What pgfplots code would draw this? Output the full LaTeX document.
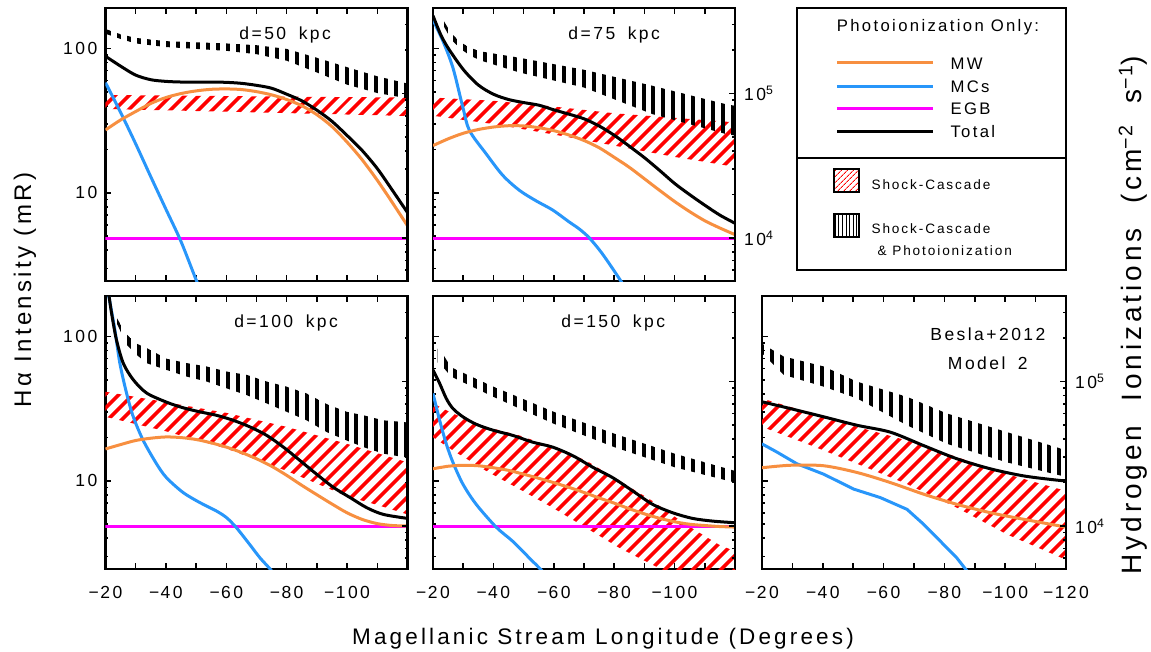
\documentclass[border=0pt]{standalone}
\usepackage{fontspec}
\setmainfont{Liberation Sans}[LetterSpace=14]
\usepackage{pgfplots}
\pgfplotsset{compat=1.18}
\usetikzlibrary{patterns.meta}

\definecolor{mworange}{RGB}{247,143,64}
\definecolor{mcblue}{RGB}{40,150,250}
\definecolor{egbmag}{RGB}{255,0,255}

\newcommand{\tickfont}{\fontsize{17.5}{20}\selectfont}
\newcommand{\ttlfont}{\fontsize{17.5}{20}\selectfont}
\newcommand{\legfont}{\fontsize{16.7}{19}\selectfont}
\newcommand{\smlfont}{\fontsize{13.6}{16}\selectfont}
\newcommand{\mn}{−\hspace{0.08em}}

\pgfplotsset{
  msPanel/.style={
    scale only axis, width=302pt, height=273pt, anchor=north west,
    xmin=-120, xmax=-20, x dir=reverse,
    ymin=2.45, ymax=190,
    axis line style={line width=2.1pt},
    tick style={black, line width=1.5pt},
    tick align=inside,
    major tick length=6pt, minor tick length=3pt,
    xtick={-20,-30,-40,-50,-60,-70,-80,-90,-100,-110,-120},
    xticklabels={},
    xtick pos=both, xticklabel pos=lower,
    ytick={10,100}, minor ytick={3,4,5,6,7,8,9,20,30,40,50,60,70,80,90},
    ytick pos=left, yticklabels={},
    xticklabel style={font=\tickfont, inner sep=0pt, yshift=-17pt},
    yticklabel style={font=\tickfont, inner sep=0pt, xshift=-8pt},
  },
  msRight/.style={
    scale only axis, width=302pt, height=273pt, anchor=north west,
    xmin=-120, xmax=-20, ymin=5041, ymax=390946,
    axis x line=none, axis y line*=right, tick align=inside,
    y axis line style={line width=2.1pt},
    tick style={black, line width=1.5pt},
    major tick length=6pt, minor tick length=3pt,
    ytick={10000,100000},
    minor ytick={6000,7000,8000,9000,20000,30000,40000,50000,60000,70000,80000,90000,200000,300000},
    yticklabels={},
    yticklabel style={font=\tickfont, inner sep=0pt, xshift=9pt},
  },
  msShock/.style={draw=none, pattern={Lines[angle=45,distance=10.5pt,line width=4pt]}, pattern color=red},
  msBoth/.style={draw=none, pattern={Lines[angle=90,distance=9.9pt,line width=4pt]}, pattern color=black},
  msEGB/.style={egbmag, line width=3pt},
  msMC/.style={mcblue, line width=3pt, smooth, tension=0.5},
  msMW/.style={mworange, line width=3pt, smooth, tension=0.5},
  msTot/.style={black, line width=3pt, smooth, tension=0.5},
}

\begin{document}
\begin{tikzpicture}
\useasboundingbox (0pt,0pt) rectangle (1151pt,-651pt);

% ---------------- d = 50 kpc ----------------
\begin{axis}[msPanel, ymode=log, at={(105.5pt,-8pt)}, yticklabels={10,100}]
  \addplot[msShock] coordinates {(-20,47.5) (-45,47) (-70,46.5) (-95,46) (-120,45.6) (-120,34) (-95,35) (-70,36) (-45,37) (-20,38)} -- cycle;
  \addplot[msBoth] coordinates {(-20,136) (-25,125) (-30,118) (-40,112) (-50,110) (-60,108) (-70,105) (-80,99) (-90,86) (-100,74) (-110,64) (-120,57)
    (-120,45) (-110,49) (-100,56) (-90,68) (-80,82) (-70,91) (-60,96) (-50,99) (-40,102) (-30,108) (-25,116) (-20,126)} -- cycle;
  \addplot[msEGB] coordinates {(-20,4.86) (-120,4.86)};
  \addplot[msMC] coordinates {(-20,57.8) (-25,36) (-30,21.8) (-35,12.9) (-40,7.7) (-45,4.6) (-50,2.5) (-55,1.4)};
  \addplot[msMW] coordinates {(-20,27.2) (-25,31.9) (-30,36.5) (-35,41.5) (-40,45.6) (-45,48.6) (-50,50.7) (-55,52.0) (-60,52.3) (-65,51.8) (-70,50.1) (-75,47.6) (-80,44.2) (-85,40.0) (-90,34.7) (-95,28.7) (-100,22.4) (-105,16.9) (-110,12.2) (-115,8.54) (-120,5.91)};
  \addplot[msTot] coordinates {(-20,88.1) (-25,75.2) (-30,65.2) (-35,60.6) (-40,59.0) (-45,58.4) (-50,58.4) (-55,58.4) (-60,58.1) (-65,57.2) (-70,55.4) (-75,52.9) (-80,48.1) (-85,43.3) (-90,37.3) (-95,31.2) (-100,24.9) (-105,19.6) (-110,14.7) (-115,10.4) (-120,7.29)};
  \node[font=\ttlfont, anchor=base] at (rel axis cs:0.595,0.885) {d=50\hspace{0.3em} kpc};
\end{axis}
\begin{axis}[msRight, ymode=log, at={(105.5pt,-8pt)}]
  \addplot[draw=none] coordinates {(-20,10000)};
\end{axis}

% ---------------- d = 75 kpc ----------------
\begin{axis}[msPanel, ymode=log, at={(433pt,-8pt)}]
  \addplot[msShock] coordinates {(-20,45.6) (-40,43.3) (-60,39.5) (-80,35.5) (-100,33) (-120,30.7) (-120,15.1) (-100,17.7) (-80,21.2) (-60,25.3) (-40,29.9) (-20,34.1)} -- cycle;
  \addplot[msBoth] coordinates {(-22,185) (-22.7,166) (-26,127) (-29.4,109) (-32.7,100) (-36,95) (-48.6,86) (-70,71) (-92.7,55) (-117,41) (-120,40)
    (-120,24.9) (-117,25.5) (-92.7,35) (-70,53.5) (-48.6,68) (-36,82) (-32.7,88) (-29.4,98) (-26,115) (-22.7,153) (-22,160)} -- cycle;
  \addplot[msEGB] coordinates {(-20,4.86) (-120,4.86)};
  \addplot[msMC] coordinates {(-20,157) (-23.3,112) (-26.6,73.3) (-29.9,38.9) (-32.1,26.9) (-37.6,18.6) (-43.1,13.2) (-48.6,10.4) (-54.1,8.8) (-59.6,7.6) (-65,6.3) (-68.5,5.6) (-71.8,4.86) (-76.2,3.75) (-82.2,2.45) (-86,1.8)};
  \addplot[msMW] coordinates {(-20,21.2) (-25,23.6) (-30,25.8) (-35,27.4) (-40,28.5) (-45,29.1) (-50,29.0) (-55,28.2) (-60,26.9) (-65,25.1) (-70,23.0) (-75,20.5) (-80,17.6) (-85,15.0) (-90,12.5) (-95,10.4) (-100,8.7) (-105,7.4) (-110,6.4) (-115,5.7) (-120,5.13)};
  \addplot[msTot] coordinates {(-20,168) (-22.5,125) (-25,100.5) (-30,71.4) (-35,55.7) (-40,48.1) (-45,44.2) (-50,42.1) (-55,40.4) (-60,37.5) (-65,35) (-70,32.5) (-75,29) (-80,25) (-85,21) (-90,17.5) (-95,14.3) (-100,11.6) (-105,9.7) (-110,8.2) (-115,7.0) (-120,6.15)};
  \node[font=\ttlfont, anchor=base] at (rel axis cs:0.600,0.885) {d=75\hspace{0.3em} kpc};
\end{axis}
\begin{axis}[msRight, ymode=log, at={(433pt,-8pt)}, yticklabels={10\textsuperscript{4},10\textsuperscript{5}}]
  \addplot[draw=none] coordinates {(-20,10000)};
\end{axis}

% ---------------- d = 100 kpc ----------------
\begin{axis}[msPanel, ymode=log, at={(105.5pt,-296pt)}, yticklabels={10,100},
  xticklabels={\mn20,,\mn40,,\mn60,,\mn80,,\mn100,,}]
  \addplot[msShock] coordinates {(-20,41.3) (-40,35) (-60,29.5) (-80,23.6) (-100,18) (-120,13.4) (-120,5.85) (-110,6.8) (-100,7.8) (-80,11.7) (-60,16.7) (-40,22) (-20,27.7)} -- cycle;
  \addplot[msBoth] coordinates {(-23,150) (-23.9,132) (-27,103) (-30.3,88.9) (-33.6,83) (-40.2,69.9) (-46.9,65.2) (-53.5,61.8) (-60.1,57.0) (-66.7,54.1) (-73.4,48.6) (-80,44.8) (-86.6,40.2) (-93.3,33.9) (-99.9,30.0) (-105.4,28.4) (-112,26.2) (-118.7,25.5) (-120,25.3)
    (-120,14.5) (-118.7,14.6) (-112,15.4) (-105.4,17.1) (-99.9,19.0) (-93.3,21.7) (-86.6,26.2) (-80,30.0) (-73.4,34.3) (-66.7,39.2) (-60.1,43.6) (-53.5,48.6) (-46.9,52.6) (-40.2,58.5) (-33.6,65.2) (-30.3,74.5) (-27,87.5) (-23.9,121) (-23,130)} -- cycle;
  \addplot[msEGB] coordinates {(-20,4.86) (-120,4.86)};
  \addplot[msMC] coordinates {(-20,260) (-21.4,175) (-23.1,111) (-24.75,65.1) (-27,40.2) (-29.2,27.7) (-32.5,19.0) (-36.9,13.1) (-40.2,10.5) (-45.7,8.29) (-51.2,7.07) (-56.7,6.18) (-60.1,5.55) (-63.4,4.72) (-67.8,3.61) (-71.2,2.92) (-75,2.38) (-78,1.9)};
  \addplot[msMW] coordinates {(-20,16.6) (-25,17.8) (-30,19.0) (-35,19.7) (-40,20.1) (-45,19.9) (-50,19.3) (-55,18.3) (-60,17.1) (-65,15.7) (-70,14.2) (-75,12.6) (-80,10.9) (-85,9.3) (-90,8.0) (-95,6.9) (-100,6.0) (-105,5.4) (-110,5.05) (-115,4.9) (-120,4.86)};
  \addplot[msTot] coordinates {(-20,260) (-21,200) (-22,145) (-23.6,95) (-25.9,65) (-29.2,50) (-33.6,40.5) (-40.2,35) (-45.7,32) (-51.2,30.0) (-56.7,28.4) (-62.3,26.2) (-67.8,23.6) (-73.4,20.6) (-78.9,17.1) (-84.4,13.8) (-89.9,11.1) (-95.5,8.99) (-101,7.65) (-106.5,6.51) (-112,5.85) (-120,5.49)};
  \node[font=\ttlfont, anchor=base] at (rel axis cs:0.598,0.885) {d=100\hspace{0.3em} kpc};
\end{axis}
\begin{axis}[msRight, ymode=log, at={(105.5pt,-296pt)}]
  \addplot[draw=none] coordinates {(-20,10000)};
\end{axis}

% ---------------- d = 150 kpc ----------------
\begin{axis}[msPanel, ymode=log, at={(433pt,-296pt)},
  xticklabels={\mn20,,\mn40,,\mn60,,\mn80,,\mn100,,}]
  \addplot[msShock] coordinates {(-20,34.3) (-26.6,29.2) (-37.6,23.6) (-48.6,20.6) (-59.6,17.1) (-70.7,13.8) (-81.7,10) (-92.7,7.24) (-103.7,4.99) (-114.7,3.61) (-120,3.25)
    (-120,1.5) (-110,1.8) (-100,2.2) (-92.7,2.62) (-81.7,3.43) (-70.7,4.72) (-59.6,6.51) (-48.6,8.75) (-37.6,11.7) (-26.6,16.2) (-20,20.0)} -- cycle;
  \addplot[msBoth] coordinates {(-21.5,82) (-22.8,78) (-26,61) (-40,44.8) (-50,36.7) (-60,30) (-80,21.2) (-100,15.4) (-120,11.7)
    (-120,9.72) (-100,12.4) (-80,17.1) (-60,24.8) (-50,30.7) (-40,38.1) (-26,52.6) (-22.8,63) (-21.5,66)} -- cycle;
  \addplot[msEGB] coordinates {(-20,4.86) (-120,4.86)};
  \addplot[msMC] coordinates {(-20,40.2) (-22.2,26.2) (-24.4,18.0) (-26.6,13.4) (-29.9,9.48) (-34.3,6.87) (-40.9,4.78) (-46.4,3.81) (-51.9,2.92) (-56.1,2.38) (-60,1.9)};
  \addplot[msMW] coordinates {(-20,12.1) (-25,12.6) (-30,12.8) (-35,12.7) (-40,12.3) (-45,11.8) (-50,11.1) (-55,10.4) (-60,9.7) (-65,9.0) (-70,8.3) (-75,7.6) (-80,7.0) (-85,6.4) (-90,5.9) (-95,5.5) (-100,5.2) (-105,5.0) (-110,4.9) (-115,4.82) (-120,4.78)};
  \addplot[msTot] coordinates {(-20,58.5) (-22.2,47.2) (-24.4,37.1) (-26.6,31.6) (-29.9,27.7) (-34.3,24.6) (-39.8,22.4) (-46.4,20.6) (-53,18.5) (-59.6,17.1) (-66.3,14.9) (-72.9,12.4) (-79.5,10.5) (-86.1,8.51) (-92.7,6.87) (-99.3,6.01) (-105.9,5.49) (-112.5,5.26) (-120,5.12)};
  \node[font=\ttlfont, anchor=base] at (rel axis cs:0.597,0.885) {d=150\hspace{0.3em} kpc};
\end{axis}
\begin{axis}[msRight, ymode=log, at={(433pt,-296pt)}]
  \addplot[draw=none] coordinates {(-20,10000)};
\end{axis}

% ---------------- Besla+2012, Model 2 ----------------
\begin{axis}[msPanel, ymode=log, width=304pt, at={(762pt,-296pt)},
  xticklabels={\mn20,,\mn40,,\mn60,,\mn80,,\mn100,,\mn120}]
  \addplot[msShock] coordinates {(-20,37.1) (-34.8,30.0) (-51.3,23.6) (-67.7,19.0) (-84.1,14.6) (-100.6,11.1) (-120,8.51)
    (-120,2.84) (-100.6,4.25) (-84.1,6.51) (-67.7,9.48) (-51.3,13.1) (-34.8,18.0) (-20,23.6)} -- cycle;
  \addplot[msBoth] coordinates {(-20,90) (-20.5,87.5) (-27.1,72.5) (-40.3,61.8) (-51.3,48.5) (-67.7,38.1) (-80.9,29.2) (-100.6,21.7) (-118.7,16.6) (-120,16.3)
    (-120,10.6) (-118.7,10.8) (-100.6,13.4) (-80.9,18.0) (-67.7,24.2) (-51.3,37.1) (-40.3,44.8) (-27.1,54.1) (-20.5,74.5) (-20,76)} -- cycle;
  \addplot[mcblue, line width=3pt] coordinates {(-20,18.0) (-24.9,15.8) (-31.5,13.1) (-40.3,11.1) (-50.2,8.75) (-58.9,7.65) (-67.7,6.34) (-73.2,4.99) (-78.7,3.81) (-84.1,2.92) (-87.4,2.38) (-92,1.9)};
  \addplot[msMW] coordinates {(-20,12.3) (-29.3,12.8) (-40.3,12.7) (-51.3,11.4) (-62.2,9.72) (-73.2,8.07) (-84.1,6.87) (-95.1,6.01) (-106.1,5.41) (-120,4.78)};
  \addplot[msTot] coordinates {(-20,35.2) (-29.3,31.6) (-40.3,27.7) (-51.3,24.2) (-62.2,21.7) (-73.2,17.5) (-84.1,14.2) (-95.1,12.1) (-106.1,10.8) (-117,10.1) (-120,10.0)};
  \node[font=\ttlfont, anchor=base] at (rel axis cs:0.743,0.836) {Besla+2012};
  \node[font=\ttlfont, anchor=base] at (rel axis cs:0.743,0.731) {Model\hspace{0.3em} 2};
\end{axis}
\begin{axis}[msRight, ymode=log, width=304pt, at={(762pt,-296pt)}, yticklabels={10\textsuperscript{4},10\textsuperscript{5}}]
  \addplot[draw=none] coordinates {(-20,10000)};
\end{axis}

% ---------------- legend box ----------------
\draw[line width=2.1pt] (797pt,-8pt) rectangle (1066pt,-270pt);
\draw[line width=2.1pt] (797pt,-158pt) -- (1066pt,-158pt);
\node[font=\legfont, anchor=base] at (938pt,-31pt) {Photoionization Only:};
\draw[mworange, line width=3pt] (837pt,-62pt) -- (933pt,-62pt);
\draw[mcblue, line width=3pt] (837pt,-86pt) -- (933pt,-86pt);
\draw[egbmag, line width=3pt] (837pt,-108pt) -- (933pt,-108pt);
\draw[black, line width=3pt] (837pt,-131pt) -- (933pt,-131pt);
\node[font=\legfont, anchor=base west] at (947pt,-69pt) {MW};
\node[font=\legfont, anchor=base west] at (947pt,-92pt) {MCs};
\node[font=\legfont, anchor=base west] at (947pt,-114pt) {EGB};
\node[font=\legfont, anchor=base west] at (947pt,-137pt) {Total};
\fill[pattern={Lines[angle=45,distance=4pt,line width=0.9pt]}, pattern color=red] (834pt,-169pt) rectangle (859pt,-192pt);
\draw[line width=1.3pt] (834pt,-169pt) rectangle (859pt,-192pt);
\fill[pattern={Lines[angle=90,distance=3.6pt,line width=1pt]}, pattern color=black] (834pt,-214pt) rectangle (859pt,-237pt);
\draw[line width=1.3pt] (834pt,-214pt) rectangle (859pt,-237pt);
\node[font=\smlfont, anchor=base west] at (868pt,-189pt) {Shock-Cascade};
\node[font=\smlfont, anchor=base west] at (868pt,-233pt) {Shock-Cascade};
\node[font=\smlfont, anchor=base west] at (874pt,-255pt) {\& Photoionization};

% ---------------- axis titles ----------------
\node[font=\fontsize{24}{28}\selectfont, rotate=90] at (25pt,-290pt) {Hα Intensity (mR)};
\node[font=\fontsize{22.5}{26}\selectfont, anchor=base] at (603pt,-644pt) {Magellanic Stream Longitude (Degrees)};
\node[font=\fontsize{28}{32}\selectfont, rotate=90] at (1133pt,-315pt) {Hydrogen\hspace{0.45em} Ionizations\hspace{0.45em} (cm\textsuperscript{\mn2}\hspace{0.35em} s\textsuperscript{\mn1})};
\end{tikzpicture}
\end{document}
